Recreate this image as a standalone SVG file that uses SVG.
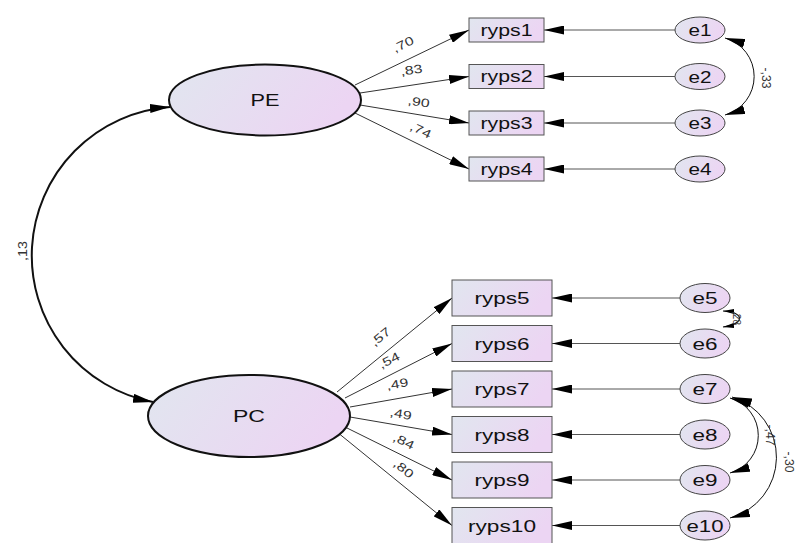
<svg xmlns="http://www.w3.org/2000/svg" width="795" height="543" viewBox="0 0 795 543">
<defs>
<linearGradient id="g" x1="0" y1="0" x2="1" y2="0.3">
<stop offset="0" stop-color="#e1e6ef"/>
<stop offset="1" stop-color="#ecd5f3"/>
</linearGradient>
<marker id="ah" viewBox="0 0 20 9" refX="20" refY="4.5" markerWidth="20" markerHeight="9" markerUnits="userSpaceOnUse" orient="auto-start-reverse">
<path d="M0,0 L20,4.5 L0,9 z" fill="#000"/>
</marker>
<marker id="ahs" viewBox="0 0 20 9" refX="20" refY="4.5" markerWidth="11" markerHeight="6" markerUnits="userSpaceOnUse" orient="auto-start-reverse">
<path d="M0,0 L20,4.5 L0,9 z" fill="#000"/>
</marker>
</defs>
<style>
.lat{fill:url(#g);stroke:#111;stroke-width:2}
.obs{fill:url(#g);stroke:#555;stroke-width:1}
.err{fill:url(#g);stroke:#444;stroke-width:1}
.t{font-family:"Liberation Sans",Arial,sans-serif;fill:#111;text-anchor:middle}
.lbl{font-family:"Liberation Sans",Arial,sans-serif;font-size:12px;fill:#333;text-anchor:middle}
.ln{fill:none;stroke:#333;stroke-width:1;marker-end:url(#ah)}
.el{fill:none;stroke:#555;stroke-width:1;marker-end:url(#ah)}
.cov{fill:none;stroke:#111;stroke-width:1;marker-start:url(#ah);marker-end:url(#ah)}
</style>
<rect width="795" height="543" fill="#fff"/>

<g id="connectors">
<path class="cov" d="M170,107 A149,149 0 0 0 153,402" style="stroke-width:2"/>
<line class="ln" x1="355" y1="85" x2="469" y2="30"/>
<line class="ln" x1="360" y1="93" x2="469" y2="76.5"/>
<line class="ln" x1="360" y1="105" x2="469" y2="123"/>
<line class="ln" x1="355" y1="113" x2="469" y2="169"/>
<line class="ln" x1="337" y1="392" x2="452" y2="298"/>
<line class="ln" x1="345" y1="398" x2="452" y2="343.5"/>
<line class="ln" x1="350" y1="407" x2="452" y2="389"/>
<line class="ln" x1="350" y1="417" x2="452" y2="434.5"/>
<line class="ln" x1="345" y1="427" x2="452" y2="480"/>
<line class="ln" x1="337" y1="432" x2="452" y2="525.5"/>
<line class="el" x1="675" y1="30" x2="544" y2="30"/>
<line class="el" x1="675" y1="76.5" x2="544" y2="76.5"/>
<line class="el" x1="675" y1="123" x2="544" y2="123"/>
<line class="el" x1="675" y1="169" x2="544" y2="169"/>
<line class="el" x1="680" y1="298" x2="552" y2="298"/>
<line class="el" x1="680" y1="343.5" x2="552" y2="343.5"/>
<line class="el" x1="680" y1="389" x2="552" y2="389"/>
<line class="el" x1="680" y1="434.5" x2="552" y2="434.5"/>
<line class="el" x1="680" y1="480" x2="552" y2="480"/>
<line class="el" x1="680" y1="525.5" x2="552" y2="525.5"/>
<path class="cov" d="M725,38 A40,40 0 0 1 725,115"/>
<path class="cov" d="M730,398 A39,39 0 0 1 730,473"/>
<path class="cov" d="M732,397 A63,63 0 0 1 730,518"/>
<path d="M723,311 C745,312 745,324 723,327" fill="none" stroke="#111" stroke-width="1.2" marker-start="url(#ahs)" marker-end="url(#ahs)"/>
<text class="lbl" transform="translate(27,251) rotate(-90)" textLength="20" lengthAdjust="spacingAndGlyphs">,13</text>
<text class="lbl" transform="translate(405,48) rotate(-26)" textLength="22" lengthAdjust="spacingAndGlyphs">,70</text>
<text class="lbl" transform="translate(412,74) rotate(-9)" textLength="22" lengthAdjust="spacingAndGlyphs">,83</text>
<text class="lbl" transform="translate(418,106) rotate(9)" textLength="22" lengthAdjust="spacingAndGlyphs">,90</text>
<text class="lbl" transform="translate(419,134) rotate(26)" textLength="22" lengthAdjust="spacingAndGlyphs">,74</text>
<text class="lbl" transform="translate(383,340) rotate(-39)" textLength="22" lengthAdjust="spacingAndGlyphs">,57</text>
<text class="lbl" transform="translate(391,364) rotate(-27)" textLength="22" lengthAdjust="spacingAndGlyphs">,54</text>
<text class="lbl" transform="translate(398,388) rotate(-10)" textLength="22" lengthAdjust="spacingAndGlyphs">,49</text>
<text class="lbl" transform="translate(400,418) rotate(10)" textLength="22" lengthAdjust="spacingAndGlyphs">,49</text>
<text class="lbl" transform="translate(402,445) rotate(26)" textLength="22" lengthAdjust="spacingAndGlyphs">,84</text>
<text class="lbl" transform="translate(401,472) rotate(39)" textLength="22" lengthAdjust="spacingAndGlyphs">,80</text>
<text class="lbl" transform="translate(762,78) rotate(90)" textLength="21" lengthAdjust="spacingAndGlyphs">-,33</text>
<text class="lbl" transform="translate(766,435) rotate(90)" textLength="21" lengthAdjust="spacingAndGlyphs">-,47</text>
<text class="lbl" transform="translate(785,462) rotate(90)" textLength="21" lengthAdjust="spacingAndGlyphs">-,30</text>
<text class="lbl" style="font-size:10px" transform="translate(733,318) rotate(90)">,28</text>
</g>

<g id="PE"><ellipse class="lat" cx="265" cy="100" rx="96" ry="35.5"/><text class="t" x="265" y="106" font-size="17" textLength="29" lengthAdjust="spacingAndGlyphs">PE</text></g>
<g id="PC"><ellipse class="lat" cx="249" cy="416" rx="101" ry="41"/><text class="t" x="249" y="422" font-size="17" textLength="32" lengthAdjust="spacingAndGlyphs">PC</text></g>

<g id="ryps1"><rect class="obs" x="469" y="18" width="75" height="24"/><text class="t" x="506.5" y="35.5" font-size="16" textLength="52" lengthAdjust="spacingAndGlyphs">ryps1</text></g>
<g id="ryps2"><rect class="obs" x="469" y="64.5" width="75" height="24"/><text class="t" x="506.5" y="82" font-size="16" textLength="52" lengthAdjust="spacingAndGlyphs">ryps2</text></g>
<g id="ryps3"><rect class="obs" x="469" y="111" width="75" height="24"/><text class="t" x="506.5" y="128.5" font-size="16" textLength="52" lengthAdjust="spacingAndGlyphs">ryps3</text></g>
<g id="ryps4"><rect class="obs" x="469" y="157" width="75" height="24"/><text class="t" x="506.5" y="174.5" font-size="16" textLength="52" lengthAdjust="spacingAndGlyphs">ryps4</text></g>

<g id="ryps5"><rect class="obs" x="452" y="280" width="100" height="36"/><text class="t" x="502" y="304" font-size="17" textLength="55" lengthAdjust="spacingAndGlyphs">ryps5</text></g>
<g id="ryps6"><rect class="obs" x="452" y="325.5" width="100" height="36"/><text class="t" x="502" y="349.5" font-size="17" textLength="55" lengthAdjust="spacingAndGlyphs">ryps6</text></g>
<g id="ryps7"><rect class="obs" x="452" y="371" width="100" height="36"/><text class="t" x="502" y="395" font-size="17" textLength="55" lengthAdjust="spacingAndGlyphs">ryps7</text></g>
<g id="ryps8"><rect class="obs" x="452" y="416.5" width="100" height="36"/><text class="t" x="502" y="440.5" font-size="17" textLength="55" lengthAdjust="spacingAndGlyphs">ryps8</text></g>
<g id="ryps9"><rect class="obs" x="452" y="462" width="100" height="36"/><text class="t" x="502" y="486" font-size="17" textLength="55" lengthAdjust="spacingAndGlyphs">ryps9</text></g>
<g id="ryps10"><rect class="obs" x="452" y="507.5" width="100" height="36"/><text class="t" x="502" y="531.5" font-size="17" textLength="68" lengthAdjust="spacingAndGlyphs">ryps10</text></g>

<g id="e1"><ellipse class="err" cx="700" cy="30" rx="25" ry="13"/><text class="t" x="700" y="36" font-size="16" textLength="23" lengthAdjust="spacingAndGlyphs">e1</text></g>
<g id="e2"><ellipse class="err" cx="700" cy="76.5" rx="25" ry="13"/><text class="t" x="700" y="82.5" font-size="16" textLength="23" lengthAdjust="spacingAndGlyphs">e2</text></g>
<g id="e3"><ellipse class="err" cx="700" cy="123" rx="25" ry="13"/><text class="t" x="700" y="129" font-size="16" textLength="23" lengthAdjust="spacingAndGlyphs">e3</text></g>
<g id="e4"><ellipse class="err" cx="700" cy="169" rx="25" ry="13"/><text class="t" x="700" y="175" font-size="16" textLength="23" lengthAdjust="spacingAndGlyphs">e4</text></g>

<g id="e5"><ellipse class="err" cx="705" cy="298" rx="25" ry="14.5"/><text class="t" x="705" y="304" font-size="16" textLength="25" lengthAdjust="spacingAndGlyphs">e5</text></g>
<g id="e6"><ellipse class="err" cx="705" cy="343.5" rx="25" ry="14.5"/><text class="t" x="705" y="349.5" font-size="16" textLength="25" lengthAdjust="spacingAndGlyphs">e6</text></g>
<g id="e7"><ellipse class="err" cx="705" cy="389" rx="25" ry="14.5"/><text class="t" x="705" y="395" font-size="16" textLength="25" lengthAdjust="spacingAndGlyphs">e7</text></g>
<g id="e8"><ellipse class="err" cx="705" cy="434.5" rx="25" ry="14.5"/><text class="t" x="705" y="440.5" font-size="16" textLength="25" lengthAdjust="spacingAndGlyphs">e8</text></g>
<g id="e9"><ellipse class="err" cx="705" cy="480" rx="25" ry="14.5"/><text class="t" x="705" y="486" font-size="16" textLength="25" lengthAdjust="spacingAndGlyphs">e9</text></g>
<g id="e10"><ellipse class="err" cx="705" cy="525.5" rx="25" ry="14.5"/><text class="t" x="705" y="531.5" font-size="16" textLength="37" lengthAdjust="spacingAndGlyphs">e10</text></g>
</svg>
